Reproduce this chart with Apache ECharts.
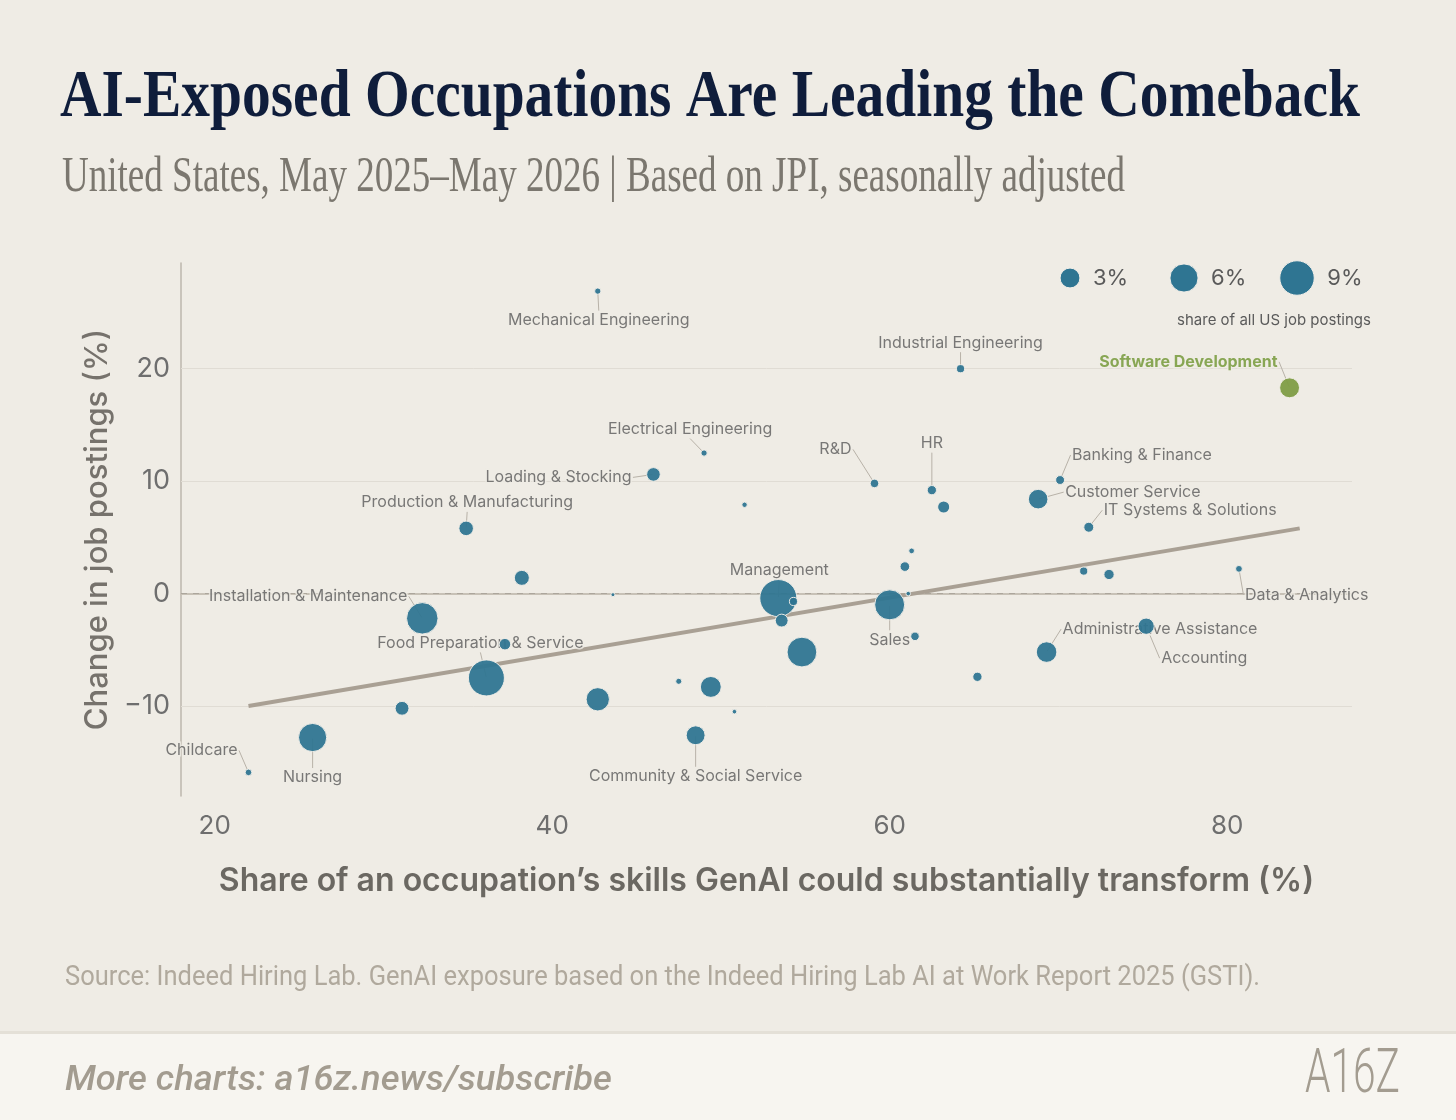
<!DOCTYPE html>
<html>
<head>
<meta charset="utf-8">
<title>AI-Exposed Occupations Are Leading the Comeback</title>
<script src="https://cdn.jsdelivr.net/npm/echarts@6/dist/echarts.min.js"></script>
<style>
  html, body { margin: 0; padding: 0; background: #efece5; }
  #chart { width: 1456px; height: 1120px; }
</style>
</head>
<body>
<div id="chart"></div>
<script>
// occupations, '' = unlabelled bubble
var occupations = [
  'Mechanical Engineering', 'Industrial Engineering', 'Software Development', 'Electrical Engineering',
  'Loading & Stocking', '', 'R&D', 'HR', '', 'Banking & Finance', 'Customer Service',
  'IT Systems & Solutions', 'Production & Manufacturing', '', '', 'Installation & Maintenance',
  'Management', '', '', '', 'Sales', '', '', '', '', 'Food Preparation & Service', '', '', '',
  '', '', '', 'Community & Social Service', 'Nursing', 'Childcare', '', 'Administrative Assistance',
  'Accounting', '', '', 'Data & Analytics'
];
// share of skills GenAI could transform (%)
var exposure = [
  42.7, 64.2, 83.7, 49.0,
  46.0, 51.4, 59.1, 62.5, 63.2, 70.1, 68.8,
  71.8, 34.9, 38.2, 43.6, 32.3,
  53.4, 54.3, 53.6, 54.8, 60.0, 61.1, 60.9, 61.3, 61.5, 36.1, 37.2, 31.1, 42.7,
  47.5, 49.4, 50.8, 48.5, 25.8, 22.0, 65.2, 69.3,
  75.2, 71.5, 73.0, 80.7
];
// change in job postings (%)
var postingChange = [
  26.9, 20.0, 18.3, 12.5,
  10.6, 7.9, 9.8, 9.2, 7.7, 10.1, 8.4,
  5.9, 5.8, 1.4, -0.1, -2.2,
  -0.4, -0.7, -2.4, -5.2, -1.0, 0.0, 2.4, 3.8, -3.8, -7.5, -4.5, -10.2, -9.4,
  -7.8, -8.3, -10.5, -12.6, -12.8, -15.9, -7.4, -5.2,
  -2.9, 2.0, 1.7, 2.2
];
// share of all US job postings (%)
var jobShare = [
  0.3, 0.5, 3.0, 0.3,
  1.4, 0.22, 0.55, 0.65, 1.1, 0.6, 2.9,
  0.75, 1.6, 1.7, 0.12, 7.5,
  10.4, 0.5, 1.25, 6.7, 6.8, 0.16, 0.7, 0.25, 0.55, 9.8, 1.0, 1.45, 4.1,
  0.28, 3.3, 0.16, 2.7, 6.0, 0.33, 0.65, 3.2,
  2.0, 0.5, 0.8, 0.35
];
var trendExposure = [22.0, 84.3];
var trendChange = [-10.0, 5.8];
var xTicks = [20, 40, 60, 80];
var yTicks = [-10, 0, 10, 20];
var legendShares = [3, 6, 9];

var X_MIN = 18, X_MAX = 87.4, Y_MIN = -18, Y_MAX = 29.4;
var BG = '#efece5';
var BUBBLE = '#2f7592';
var HIGHLIGHT = '#7e9c44';

// label placement: [dx, dy, align] from bubble centre
var labelPlacement = {
  'Mechanical Engineering': [1, 29, 'center'],
  'Industrial Engineering': [0, -26, 'center'],
  'Software Development': [-12, -26, 'right'],
  'Electrical Engineering': [-14, -24, 'center'],
  'Loading & Stocking': [-22, 3, 'right'],
  'Production & Manufacturing': [1, -26, 'center'],
  'R&D': [-23, -34, 'right'],
  'HR': [0, -47, 'center'],
  'Banking & Finance': [12, -25, 'left'],
  'Customer Service': [27, -7, 'left'],
  'IT Systems & Solutions': [15, -17, 'left'],
  'Installation & Maintenance': [-15, -22, 'right'],
  'Management': [1, -28, 'center'],
  'Food Preparation & Service': [-6, -35, 'center'],
  'Sales': [0, 35, 'center'],
  'Administrative Assistance': [16, -23, 'left'],
  'Accounting': [15, 32, 'left'],
  'Data & Analytics': [6, 26, 'left'],
  'Community & Social Service': [0, 41, 'center'],
  'Nursing': [0, 40, 'center'],
  'Childcare': [-11, -22, 'right']
};

function bubbleSize(share) {
  return 11.5 * Math.sqrt(share);
}

var measureCtx = document.createElement('canvas').getContext('2d');
function fitScale(text, font, width) {
  measureCtx.font = font;
  return width / measureCtx.measureText(text).width;
}

var bubbleData = occupations.map(function (name, i) {
  var item = { name: name, value: [exposure[i], postingChange[i], jobShare[i]] };
  if (name === 'Software Development') {
    item.itemStyle = { color: HIGHLIGHT };
  }
  return item;
});

var labelData = occupations.map(function (name, i) {
  var item = { name: name, value: [exposure[i], postingChange[i]] };
  if (!name) {
    item.label = { show: false };
    item.labelLine = { show: false };
  } else if (name === 'Software Development') {
    item.label = { color: '#6e9530', fontWeight: 700 };
  }
  return item;
});

// horizontal grid lines, the zero line dashed
var gridLines = yTicks.map(function (v) {
  return {
    yAxis: v,
    lineStyle: v === 0
      ? { color: '#aca69c', width: 1, type: [6, 6] }
      : { color: '#e0dcd4', width: 1, type: 'solid' }
  };
});

var titleText = 'AI-Exposed Occupations Are Leading the Comeback';
var titleFont = "bold 68px 'Liberation Serif'";
var subText = 'United States, May 2025\u2013May 2026 | Based on JPI, seasonally adjusted';
var subFont = "50px 'Liberation Serif'";
var sourceText = 'Source: Indeed Hiring Lab. GenAI exposure based on the Indeed Hiring Lab AI at Work Report 2025 (GSTI).';
var sourceFont = "27px Roboto";
var moreText = 'More charts: a16z.news/subscribe';
var moreFont = "italic 500 35px Roboto";
var logoText = 'A16Z';
var logoFont = "300 62px Roboto";

var legendX = [1070, 1184, 1297];
var legendGraphics = [];
legendShares.forEach(function (s, i) {
  var r = bubbleSize(s) / 2;
  legendGraphics.push({
    type: 'circle', shape: { cx: legendX[i], cy: 278, r: r },
    style: { fill: BUBBLE, stroke: '#f2efe9', lineWidth: 1 }
  });
  legendGraphics.push({
    type: 'text', x: legendX[i] + r + 13, y: 278,
    style: { text: s + '%', font: '22px Inter', fill: '#5a5a5a', verticalAlign: 'middle' }
  });
});

var chart = echarts.init(document.getElementById('chart'));

var option = {
  backgroundColor: BG,
  animation: false,
  textStyle: { fontFamily: 'Inter' },
  grid: { left: 181, right: 104, top: 263, bottom: 324 },
  xAxis: {
    type: 'value',
    min: X_MIN,
    max: X_MAX,
    name: 'Share of an occupation\u2019s skills GenAI could substantially transform (%)',
    nameLocation: 'middle',
    nameGap: 69,
    nameTextStyle: { fontSize: 32, fontWeight: 600, color: '#6b6862', fontFamily: 'Inter', verticalAlign: 'top' },
    axisLine: { show: true, lineStyle: { color: '#c7c1b6', width: 2 } },
    axisTick: { show: false, customValues: xTicks },
    splitLine: { show: false },
    axisLabel: { customValues: xTicks, fontSize: 26, color: '#6e6e6e', margin: 17, fontFamily: 'Inter' }
  },
  yAxis: {
    type: 'value',
    min: Y_MIN,
    max: Y_MAX,
    name: 'Change in job postings (%)',
    nameLocation: 'middle',
    nameGap: 68,
    nameTextStyle: { fontSize: 31, fontWeight: 500, color: '#76726c', fontFamily: 'Inter' },
    axisLine: { show: true, lineStyle: { color: '#bdb7ac', width: 1.5 } },
    axisTick: { show: false, customValues: yTicks },
    splitLine: { show: false },
    axisLabel: {
      customValues: yTicks, fontSize: 27, color: '#6e6e6e', margin: 11, fontFamily: 'Inter',
      formatter: function (v) { return String(v).replace('-', '\u2212'); }
    }
  },
  series: [
    {
      type: 'line',
      silent: true,
      z: 2,
      symbol: 'none',
      data: trendExposure.map(function (x, i) { return [x, trendChange[i]]; }),
      lineStyle: { color: '#a9a094', width: 4 },
      markLine: {
        silent: true,
        z: 1,
        symbol: 'none',
        label: { show: false },
        emphasis: { disabled: true },
        data: gridLines
      }
    },
    {
      type: 'scatter',
      silent: true,
      z: 3,
      symbol: 'circle',
      symbolSize: 2,
      itemStyle: { color: 'rgba(0,0,0,0)' },
      data: labelData,
      label: {
        show: true,
        position: 'inside',
        formatter: '{b}',
        fontSize: 16,
        fontFamily: 'Inter',
        color: '#5a5a5a',
        textBorderColor: BG,
        textBorderWidth: 3
      },
      labelLine: { show: true, lineStyle: { color: '#b8b2a8', width: 1 } },
      labelLayout: function (params) {
        var p = labelPlacement[occupations[params.dataIndex]];
        if (!p) return {};
        return { dx: p[0], dy: p[1], align: p[2] };
      }
    },
    {
      type: 'scatter',
      z: 4,
      data: bubbleData,
      symbolSize: function (v) { return bubbleSize(v[2]); },
      itemStyle: { color: BUBBLE, borderColor: '#f2efe9', borderWidth: 1, opacity: 0.94 }
    }
  ],
  graphic: [
    {
      type: 'text', x: 60, y: 98, scaleX: fitScale(titleText, titleFont, 1300),
      style: { text: titleText, font: titleFont, fill: '#0f1d3b', verticalAlign: 'middle' }
    },
    {
      type: 'text', x: 62, y: 178, scaleX: fitScale(subText, subFont, 1063),
      style: { text: subText, font: subFont, fill: '#7b776f', verticalAlign: 'middle' }
    },
    {
      type: 'text', x: 1274, y: 320,
      style: { text: 'share of all US job postings', font: '15px Inter', fill: '#5a5a5a', align: 'center', verticalAlign: 'middle' }
    },
    {
      type: 'text', x: 65, y: 978, scaleX: fitScale(sourceText, sourceFont, 1195),
      style: { text: sourceText, font: sourceFont, fill: '#b0a99d', verticalAlign: 'middle' }
    },
    {
      type: 'rect', shape: { x: 0, y: 1033, width: 1456, height: 87 },
      style: { fill: '#f7f5f0' }
    },
    {
      type: 'rect', shape: { x: 0, y: 1031, width: 1456, height: 3 },
      style: { fill: '#e4e0d7' }
    },
    {
      type: 'text', x: 65, y: 1081, scaleX: fitScale(moreText, moreFont, 547),
      style: { text: moreText, font: moreFont, fill: '#a39c90', verticalAlign: 'middle' }
    },
    {
      type: 'text', x: 1305, y: 1076, scaleX: fitScale(logoText, logoFont, 95),
      style: { text: logoText, font: logoFont, fill: '#a39c90', verticalAlign: 'middle' }
    }
  ].concat(legendGraphics)
};

chart.setOption(option);
</script>
</body>
</html>
